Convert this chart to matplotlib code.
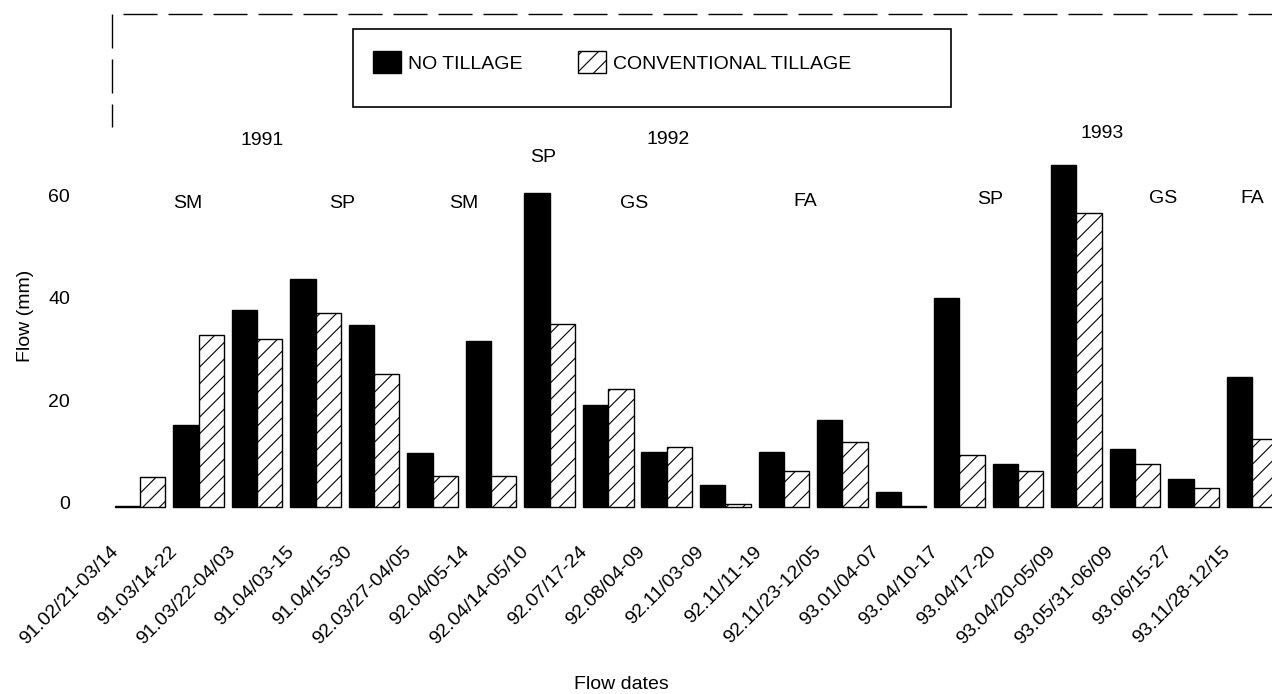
import matplotlib
matplotlib.use("Agg")
import matplotlib.pyplot as plt
import numpy as np
from matplotlib.lines import Line2D
from matplotlib.patches import Rectangle
from matplotlib.transforms import ScaledTranslation

plt.rcParams['font.family'] = ['Liberation Sans', 'DejaVu Sans']
plt.rcParams['hatch.linewidth'] = 0.8
plt.rcParams['hatch.color'] = 'black'

# ---------------- data ----------------
dates = ["91.02/21-03/14", "91.03/14-22", "91.03/22-04/03", "91.04/03-15",
         "91.04/15-30", "92.03/27-04/05", "92.04/05-14", "92.04/14-05/10",
         "92.07/17-24", "92.08/04-09", "92.11/03-09", "92.11/11-19",
         "92.11/23-12/05", "93.01/04-07", "93.04/10-17", "93.04/17-20",
         "93.04/20-05/09", "93.05/31-06/09", "93.06/15-27", "93.11/28-12/15"]
no_tillage = [0.2, 16.2, 38.6, 44.7, 35.6, 10.6, 32.5, 61.4, 20.0, 10.9,
              4.3, 10.9, 17.1, 3.1, 40.9, 8.4, 66.9, 11.4, 5.6, 25.5]
conventional = [5.9, 33.6, 33.0, 38.0, 26.1, 6.2, 6.2, 35.8, 23.1, 11.8,
                0.7, 7.2, 12.8, 0.35, 10.3, 7.2, 57.5, 8.4, 3.9, 13.3]
series_labels = ["NO TILLAGE", "CONVENTIONAL TILLAGE"]
y_ticks = [0, 20, 40, 60]

# season / year annotations: (text, group position, value level)
seasons = [("SM", 0.81, 58.4), ("SP", 3.46, 58.4), ("SM", 5.53, 58.4),
           ("SP", 6.89, 67.5), ("GS", 8.45, 58.5), ("FA", 11.36, 58.8),
           ("SP", 14.53, 59.3), ("GS", 17.48, 59.4), ("FA", 19.01, 59.4)]
years = [("1991", 2.08, 70.8), ("1992", 9.02, 71.0), ("1993", 16.44, 72.2)]

# ---------------- figure ----------------
W, H = 1272, 694
fig = plt.figure(figsize=(W / 100, H / 100), dpi=100)
fx = lambda px: px / W
fy = lambda py: 1 - py / H

ax_left, ax_right = 90, 1290
ax_top, ax_bot = 149.1, 512.6
ax = fig.add_axes([fx(ax_left), fy(ax_bot), (ax_right - ax_left) / W, (ax_bot - ax_top) / H])

x = np.arange(len(dates))
w = 0.432
b1 = ax.bar(x - w / 2, no_tillage, w, color='black', edgecolor='black', linewidth=1.0,
            label=series_labels[0])
b2 = ax.bar(x + w / 2, conventional, w, color='white', edgecolor='black', linewidth=1.0,
            hatch='//', label=series_labels[1])

ax.set_xlim((ax_left - 140) / 58.53, (ax_right - 140) / 58.53)
ax.set_ylim(-1, 70)
for s in ax.spines.values():
    s.set_visible(False)

ax.set_xticks(x, dates)
ax.tick_params(axis='x', length=0, pad=26.2, labelsize=14)
plt.setp(ax.get_xticklabels(), rotation=45, ha='right', va='center', rotation_mode='anchor')
for lbl in ax.get_xticklabels():
    lbl.set_transform(lbl.get_transform() + ScaledTranslation(-0.24, 0, fig.dpi_scale_trans))

ax.set_yticks(y_ticks, [str(v) for v in y_ticks])
ax.tick_params(axis='y', length=0, pad=14.4, labelsize=14)
for lbl in ax.get_yticklabels():
    lbl.set_transform(lbl.get_transform() + ScaledTranslation(0, 0.05, fig.dpi_scale_trans))

ax.set_ylabel("Flow (mm)", fontsize=14)
ax.yaxis.set_label_coords((34 - ax_left) / (ax_right - ax_left), (ax_bot - 316) / (ax_bot - ax_top))
ax.set_xlabel("Flow dates", fontsize=14)
ax.xaxis.set_label_coords((621 - ax_left) / (ax_right - ax_left), (ax_bot - 676) / (ax_bot - ax_top))

for txt, gx, gy in seasons + years:
    ax.text(gx, gy, txt, ha='center', va='baseline', fontsize=14)

# dashed frame at top-left
fig.add_artist(Line2D([fx(123), fx(1272)], [fy(14.3), fy(14.3)], transform=fig.transFigure,
                      color='black', lw=1.0, linestyle=(0, (24.5, 7.9))))
fig.add_artist(Line2D([fx(111.5), fx(111.5)], [fy(14), fy(127)], transform=fig.transFigure,
                      color='black', lw=1.0, linestyle=(0, (24.5, 7.9))))

# legend box and legend
fig.add_artist(Rectangle((fx(353.3), fy(107.3)), (951 - 353.3) / W, (107.3 - 29) / H,
                         transform=fig.transFigure, fill=False, edgecolor='black', lw=1.2))
fig.legend(handles=[b1, b2], labels=series_labels, loc='upper left',
           bbox_to_anchor=(fx(373), fy(51)), bbox_transform=fig.transFigure,
           ncol=2, frameon=False, borderpad=0, borderaxespad=0,
           handlelength=1.44, handleheight=1.39, handletextpad=0.36,
           columnspacing=2.83, fontsize=14)

fig.savefig("out.png", dpi=100)
